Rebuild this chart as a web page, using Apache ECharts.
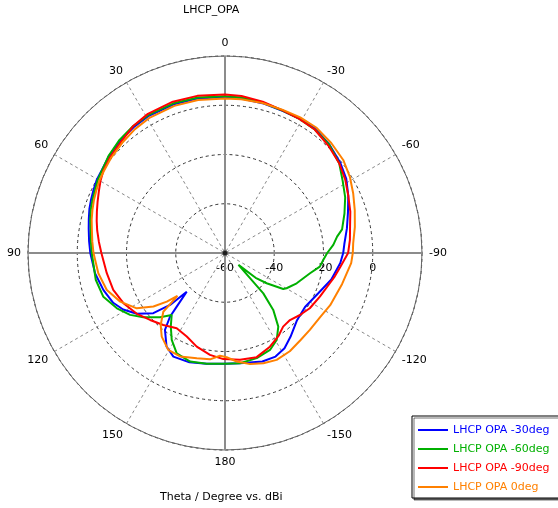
<!DOCTYPE html>
<html lang="en">

<head>
  <meta charset="UTF-8">
  <title>LHCP_OPA</title>
  <script src="https://cdn.jsdelivr.net/npm/echarts@6/dist/echarts.min.js"></script>
  <style>
    html, body { margin: 0; padding: 0; background: #fff; }
  </style>
</head>

<body>
  <div id="main" style="width: 558px;height:508px;"></div>
  <script>
    // 圖例名稱
    var seriesNames = ['LHCP OPA -30deg', 'LHCP OPA -60deg', 'LHCP OPA -90deg', 'LHCP OPA 0deg'];
    var seriesColors = ['#0000ff', '#00b000', '#ff0000', '#ff8000'];

    // 角度刻度 (-180 ~ 180)
    var angleTicks = [0, 30, 60, 90, 120, 150, 180, -150, -120, -90, -60, -30];
    // 半徑刻度 (dBi)
    var radiusTicks = [-60, -40, -20, 0];

    // LHCP OPA -30deg : theta (deg) / gain (dBi)
    var thetaBlue = [0, 10, 19, 29, 36, 43, 50, 56, 60, 64, 68, 72, 76, 80, 85, 90, 99, 107, 114, 119,
      124.6, 130, 133.4, 135.3, 138, 139.2, 142, 148, 153.5, 162, 170.6, 180,
      -172.3, -161, -154, -148, -142, -133, -124, -113.5, -104, -95, -90, -85.7, -78.6, -71.7, -65.1, -58.6, -51.8, -44,
      -36, -29, -22, -14, -6];
    var gainBlue = [3.3, 3.7, 3.9, 3.7, 3.1, 2.4, 1.4, 0.3, 0.0, -0.7, -1.4, -2.1, -3.0, -3.8, -4.6, -5.3, -6.6, -8.4, -10.3, -12.7,
      -16.5, -22.0, -29.3, -37.9, -30.7, -25.8, -20.4, -15.2, -13.0, -13.3, -14.4, -15.0,
      -14.8, -13.4, -13.2, -14.4, -16.8, -20.0, -20.8, -18.8, -15.5, -13.0, -12.0, -11.4, -9.5, -7.4, -4.8, -2.3, -0.5, 1.1,
      2.4, 2.4, 2.3, 2.7, 3.1];

    // LHCP OPA -60deg
    var thetaGreen = [0, 10, 19, 29, 36, 43, 50, 56, 60, 64, 68, 72, 76, 80, 85, 90,
      101.7, 109.8, 117.1, 123.1, 128.2, 134.7, 139.3, 143.6, 148.5, 154.3, 162.2, 170.6, 180,
      -172.3, -163.2, -155.1, -149.3, -144.1, -139.7, -136.5, -131.5, -129, -126,
      -121.7, -119.8, -112.9, -103.4, -98.2, -94.1, -90, -85.7, -81.7, -78.6,
      -71.7, -65.1, -58.6, -51.8, -44, -36, -29, -22, -14, -6];
    var gainGreen = [3.7, 4.1, 4.3, 4.1, 3.6, 2.8, 1.6, 0.2, -0.4, -1.3, -2.0, -2.7, -3.6, -4.6, -5.3, -5.9,
      -6.4, -7.5, -10.7, -14.0, -17.8, -22.9, -26.8, -22.9, -18.6, -14.8, -13.7, -14.4, -15.0,
      -14.8, -15.4, -16.6, -18.9, -23.1, -29.7, -37.4, -52.7, -44.0, -39.1,
      -32.2, -31.2, -28.4, -24.5, -21.1, -20.0, -18.5, -15.9, -14.0, -11.5,
      -8.9, -6.2, -4.0, -1.0, 1.0, 2.0, 2.3, 2.4, 3.0, 3.5];

    // LHCP OPA -90deg
    var thetaRed = [0, 10, 19, 29, 36, 43, 50, 56, 60, 64, 68, 72, 76, 80, 85, 90,
      99.7, 108.3, 116.3, 124.6, 131.8, 139.4, 147.3, 155.4, 163.2, 171.6, 179.1,
      -172, -163.1, -154.4, -147.5, -141.7, -135.9, -129.6, -123.1, -114.7, -106.1,
      -102, -96.8, -90, -84, -78.6, -71.7, -65.1, -58.6, -51.8, -44,
      -36, -29, -22, -14, -6];
    var gainRed = [4.4, 4.8, 5.0, 4.6, 3.6, 1.8, 0.8, -0.4, -1.6, -3.0, -4.2, -5.3, -6.3, -7.3, -8.6, -9.8,
      -11.3, -12.2, -14.0, -16.5, -19.2, -21.5, -23.7, -22.7, -20.3, -18.2, -16.9,
      -16.2, -15.8, -17.8, -19.8, -21.9, -22.1, -20.5, -18.9, -17.6, -15.7,
      -14.4, -12.8, -10.0, -9.0, -8.2, -6.4, -4.8, -2.8, -1.0, 0.5,
      2.0, 2.3, 2.5, 3.3, 4.1];

    // LHCP OPA 0deg
    var thetaOrange = [0, 10, 19, 29, 36, 43, 50, 56, 60, 64, 68, 72, 76, 80, 85, 90,
      99.1, 107.4, 114.9, 122.1, 126.8, 129.9, 132, 133.6, 138.2, 142.9,
      149.7, 156.5, 165, 172, 177.2,
      -179.1, -173.9, -167.3, -160.8, -154.2, -146.6, -139, -132.2, -123.8, -116.4,
      -104.8, -94.6, -90, -85.7, -78.6, -71.7, -65.1, -58.6, -51.8, -44,
      -36, -29, -22, -14, -6];
    var gainOrange = [2.7, 3.1, 3.2, 2.9, 2.2, 1.2, 0.3, -0.6, -1.1, -1.9, -2.6, -3.4, -4.2, -5.1, -5.9, -6.6,
      -7.9, -9.7, -13.1, -17.7, -23.7, -29.2, -34.0, -25.4, -20.8, -17.4,
      -14.4, -14.2, -15.8, -16.4, -18.2,
      -17.7, -15.7, -13.8, -12.6, -11.8, -12.2, -13.2, -13.5, -13.4, -12.3,
      -10.8, -8.6, -8.1, -7.8, -6.2, -4.5, -2.6, -0.6, 1.1, 2.1,
      3.0, 3.0, 2.7, 2.8, 2.8];

    var fontName = 'DejaVu Sans';

    // 角度軸從 -90 (右) 逆時針到 270，把 -180~-90 移到 180~270 再排序並閉合
    function toPolar(theta, gain) {
      var pts = theta.map(function (t, i) {
        return [gain[i], t < -90 ? t + 360 : t];
      });
      pts.sort(function (a, b) { return a[1] - b[1]; });
      pts.push([pts[0][0], pts[0][1] + 360]);
      return pts;
    }

    var thetaList = [thetaBlue, thetaGreen, thetaRed, thetaOrange];
    var gainList = [gainBlue, gainGreen, gainRed, gainOrange];

    var myChart = echarts.init(document.getElementById('main'));

    var curveSeries = seriesNames.map(function (name, i) {
      return {
        name: name,
        type: 'line',
        coordinateSystem: 'polar',
        data: toPolar(thetaList[i], gainList[i]),
        symbol: 'none',
        smooth: false,
        lineStyle: { color: seriesColors[i], width: 2 },
        itemStyle: { color: seriesColors[i] },
        z: 5,
        animation: false
      };
    });

    // 十字實線 (0/180, 90/-90) 與中心點
    var crossSeries = [
      {
        type: 'line', coordinateSystem: 'polar', silent: true, symbol: 'none', z: 1, animation: false,
        lineStyle: { color: '#8c8c8c', width: 2 },
        data: [[20, 0], [-60, 0], [20, 180]]
      },
      {
        type: 'line', coordinateSystem: 'polar', silent: true, symbol: 'none', z: 1, animation: false,
        lineStyle: { color: '#8c8c8c', width: 2 },
        data: [[20, 90], [-60, 90], [20, -90]]
      },
      {
        type: 'scatter', coordinateSystem: 'polar', silent: true, z: 2, animation: false,
        symbolSize: 5, itemStyle: { color: '#000' },
        data: [[-60, 0]]
      }
    ];

    var option = {
      backgroundColor: '#fff',
      animation: false,
      title: [
        {
          text: 'LHCP_OPA', left: 178, top: 0,
          textStyle: { fontFamily: fontName, fontSize: 11, fontWeight: 'normal', color: '#000' }
        },
        {
          text: 'Theta / Degree vs. dBi', left: 155, top: 487,
          textStyle: { fontFamily: fontName, fontSize: 11, fontWeight: 'normal', color: '#000' }
        }
      ],
      legend: {
        orient: 'vertical',
        left: 412, top: 416,
        padding: [7, 10, 4, 6],
        itemWidth: 30, itemHeight: 2, itemGap: 5,
        icon: 'rect',
        backgroundColor: '#fff',
        borderColor: '#000', borderWidth: 1,
        shadowColor: 'rgba(0,0,0,0.55)', shadowOffsetX: 2, shadowOffsetY: 2, shadowBlur: 0,
        textStyle: { fontFamily: fontName, fontSize: 11, lineHeight: 14 },
        data: seriesNames.map(function (n, i) {
          return { name: n, textStyle: { color: seriesColors[i] } };
        })
      },
      polar: {
        center: [225, 253],
        radius: 197
      },
      angleAxis: {
        type: 'value',
        min: -90, max: 270, interval: 30,
        startAngle: 0,
        clockwise: false,
        axisLine: { show: true, lineStyle: { color: '#666', width: 1 } },
        axisTick: { show: false },
        axisLabel: {
          margin: 7,
          fontFamily: fontName, fontSize: 11, color: '#000',
          formatter: function (v) {
            var a = v > 180 ? v - 360 : v;
            return angleTicks.indexOf(a) >= 0 ? String(a) : '';
          }
        },
        splitLine: { show: true, lineStyle: { color: '#888', type: [3, 3], width: 1 } }
      },
      radiusAxis: {
        type: 'value',
        min: -60, max: 20, interval: 20,
        axisLine: { show: false },
        axisTick: { show: false },
        axisLabel: {
          margin: -15,
          verticalAlign: 'middle',
          fontFamily: fontName, fontSize: 11, color: '#000',
          formatter: function (v) {
            return radiusTicks.indexOf(v) >= 0 ? String(v) : '';
          }
        },
        splitLine: { show: true, lineStyle: { color: '#333', type: [3, 3], width: 1 } }
      },
      series: crossSeries.concat(curveSeries)
    };

    myChart.setOption(option);
  </script>
</body>

</html>
